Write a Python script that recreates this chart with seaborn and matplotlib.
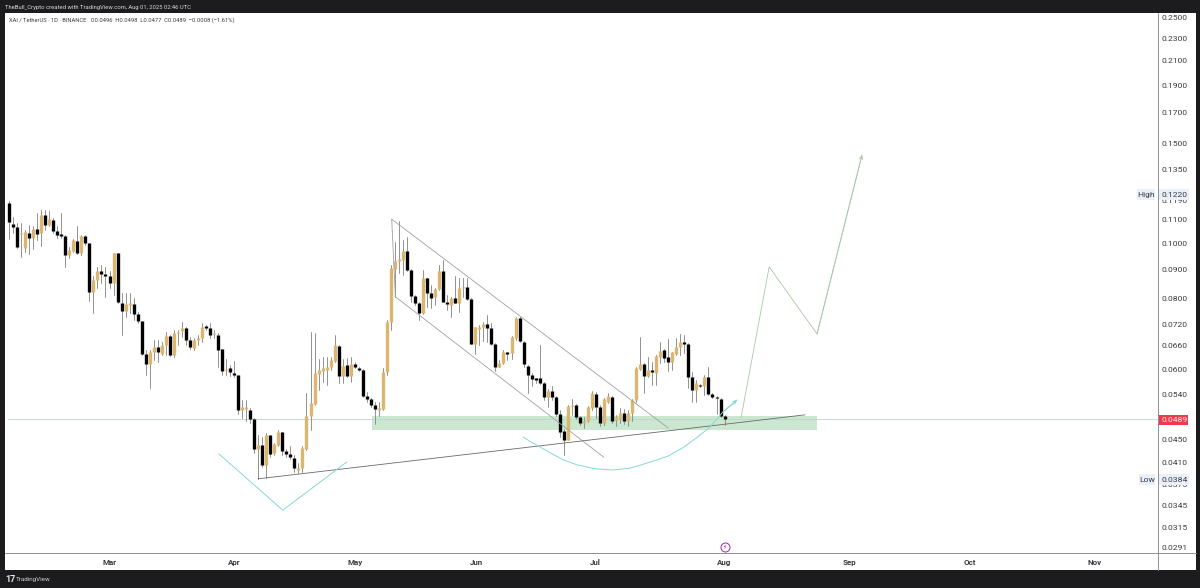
import numpy as np
import pandas as pd
import seaborn as sns
import matplotlib.pyplot as plt
from matplotlib.lines import Line2D
from matplotlib.patches import Rectangle

# Daily candles XAI/USDT, 4 Feb 2025 to 1 Aug 2025
open_prices = [
    .1180, .1082, .1069, .1039, .0983, .1045, .1021, .1059, .1045, .1120,
    .1078, .1100, .1051, .1038, .1030, .0955, .0971, .1011, .0961, .1030,
    .1001, .0819, .0862, .0894, .0883, .0877, .0850, .0961, .0786, .0760,
    .0778, .0782, .0751, .0730, .0638, .0612, .0642, .0657, .0639, .0662,
    .0686, .0635, .0694, .0701, .0710, .0675, .0654, .0675, .0680, .0715,
    .0708, .0692, .0689, .0650, .0598, .0603, .0590, .0585, .0508, .0510,
    .0508, .0489, .0433, .0441, .0406, .0458, .0426, .0441, .0464, .0430,
    .0424, .0418, .0398, .0401, .0433, .0495, .0521, .0588, .0596, .0598,
    .0605, .0620, .0659, .0584, .0610, .0584, .0612, .0603, .0598, .0538,
    .0531, .0518, .0508, .0510, .0592, .0725, .0902, .0932, .0935, .0971,
    .0898, .0808, .0786, .0753, .0868, .0816, .0805, .0829, .0892, .0789,
    .0778, .0800, .0784, .0834, .0839, .0797, .0664, .0705, .0713, .0720,
    .0710, .0664, .0606, .0615, .0642, .0640, .0681, .0737, .0670, .0608,
    .0586, .0578, .0578, .0566, .0536, .0549, .0535, .0500, .0467, .0450,
    .0516, .0519, .0493, .0481, .0486, .0512, .0542, .0515, .0481, .0525,
    .0536, .0487, .0489, .0501, .0486, .0501, .0528, .0600, .0612, .0584,
    .0598, .0590, .0631, .0648, .0629, .0618, .0639, .0657, .0670, .0664,
    .0582, .0551, .0563, .0559, .0580, .0541, .0536, .0531, .0496,
]
high_prices = [
    .1188, .1114, .1087, .1087, .1056, .1078, .1073, .1131, .1146, .1146,
    .1141, .1108, .1071, .1131, .1035, .0987, .1017, .1071, .1035, .1035,
    .1003, .0874, .0910, .0916, .0910, .0892, .0963, .0963, .0816, .0816,
    .0818, .0800, .0755, .0730, .0648, .0648, .0675, .0675, .0671, .0698,
    .0689, .0703, .0703, .0727, .0713, .0684, .0680, .0689, .0722, .0718,
    .0722, .0703, .0694, .0650, .0626, .0610, .0620, .0586, .0529, .0529,
    .0512, .0491, .0459, .0456, .0462, .0459, .0444, .0468, .0465, .0433,
    .0438, .0423, .0409, .0438, .0544, .0698, .0695, .0626, .0630, .0630,
    .0630, .0689, .0662, .0626, .0627, .0630, .0618, .0606, .0600, .0547,
    .0533, .0525, .0525, .0602, .0732, .0916, .1007, .1093, .1014, .1028,
    .0900, .0810, .0789, .0898, .0870, .0845, .0833, .0916, .0935, .0810,
    .0805, .0877, .0868, .0868, .0868, .0800, .0713, .0718, .0727, .0748,
    .0722, .0666, .0622, .0648, .0644, .0686, .0741, .0741, .0673, .0610,
    .0590, .0579, .0662, .0568, .0553, .0559, .0538, .0508, .0471, .0519,
    .0532, .0521, .0496, .0493, .0517, .0549, .0547, .0519, .0533, .0545,
    .0538, .0498, .0512, .0510, .0507, .0531, .0604, .0684, .0614, .0629,
    .0618, .0635, .0670, .0650, .0677, .0644, .0682, .0692, .0689, .0666,
    .0592, .0574, .0565, .0586, .0605, .0544, .0538, .0533, .0498,
]
low_prices = [
    .1017, .1043, .0982, .0947, .0967, .0958, .0977, .1014, .0990, .1056,
    .1071, .1045, .1021, .1021, .0908, .0943, .0967, .0958, .0955, .0994,
    .0792, .0753, .0833, .0850, .0805, .0833, .0810, .0785, .0689, .0742,
    .0753, .0732, .0722, .0635, .0586, .0555, .0622, .0618, .0635, .0635,
    .0632, .0630, .0662, .0684, .0662, .0650, .0648, .0662, .0670, .0703,
    .0680, .0681, .0606, .0586, .0586, .0584, .0580, .0500, .0492, .0485,
    .0481, .0426, .0384, .0403, .0386, .0420, .0423, .0438, .0423, .0420,
    .0417, .0395, .0393, .0395, .0432, .0468, .0519, .0551, .0570, .0563,
    .0598, .0618, .0566, .0566, .0580, .0570, .0602, .0594, .0536, .0525,
    .0515, .0480, .0495, .0508, .0586, .0703, .0805, .0886, .0880, .0895,
    .0789, .0779, .0732, .0751, .0773, .0769, .0778, .0827, .0787, .0763,
    .0740, .0784, .0758, .0805, .0794, .0663, .0637, .0662, .0673, .0670,
    .0662, .0594, .0604, .0613, .0622, .0624, .0675, .0670, .0606, .0545,
    .0559, .0566, .0565, .0529, .0514, .0529, .0495, .0456, .0423, .0449,
    .0498, .0489, .0478, .0473, .0483, .0508, .0492, .0476, .0478, .0522,
    .0481, .0476, .0481, .0480, .0475, .0485, .0525, .0598, .0545, .0580,
    .0563, .0563, .0614, .0618, .0594, .0598, .0635, .0635, .0640, .0555,
    .0525, .0525, .0558, .0540, .0540, .0533, .0500, .0494, .0477,
]
close_prices = [
    .1089, .1069, .0986, .1043, .1046, .1021, .1059, .1039, .1120, .1078,
    .1103, .1051, .1035, .1030, .0955, .0974, .1014, .0963, .1031, .1001,
    .0821, .0862, .0892, .0883, .0877, .0850, .0961, .0789, .0760, .0782,
    .0784, .0751, .0730, .0638, .0612, .0644, .0657, .0642, .0662, .0686,
    .0635, .0694, .0698, .0708, .0675, .0656, .0675, .0680, .0713, .0710,
    .0689, .0694, .0648, .0596, .0601, .0592, .0585, .0507, .0515, .0514,
    .0489, .0433, .0441, .0406, .0458, .0425, .0443, .0465, .0430, .0424,
    .0420, .0401, .0401, .0435, .0496, .0522, .0590, .0598, .0602, .0605,
    .0622, .0662, .0584, .0608, .0584, .0612, .0604, .0598, .0538, .0531,
    .0518, .0510, .0512, .0592, .0725, .0904, .0932, .0937, .0971, .0898,
    .0808, .0786, .0753, .0868, .0816, .0802, .0829, .0892, .0789, .0781,
    .0802, .0786, .0833, .0836, .0797, .0664, .0711, .0713, .0720, .0710,
    .0664, .0606, .0615, .0642, .0637, .0684, .0737, .0673, .0612, .0586,
    .0576, .0574, .0566, .0536, .0549, .0535, .0500, .0465, .0449, .0517,
    .0518, .0493, .0481, .0485, .0514, .0545, .0514, .0481, .0531, .0538,
    .0486, .0493, .0501, .0486, .0501, .0529, .0602, .0612, .0584, .0598,
    .0592, .0632, .0646, .0628, .0618, .0642, .0657, .0670, .0664, .0580,
    .0551, .0566, .0559, .0582, .0542, .0536, .0533, .0495, .0489,
]

# Axis labels (day index counted from 4 Feb)
month_labels = ["Mar", "Apr", "May", "Jun", "Jul", "Aug", "Sep", "Oct", "Nov"]
month_days = [25, 56, 86, 116.2, 145.8, 178, 209, 239, 270]
price_ticks = [0.25, 0.23, 0.21, 0.19, 0.17, 0.15, 0.135, 0.119, 0.11, 0.10, 0.09,
               0.08, 0.072, 0.066, 0.06, 0.054, 0.045, 0.041, 0.0375, 0.0345,
               0.0315, 0.0291]
price_labels = ["0.2500", "0.2300", "0.2100", "0.1900", "0.1700", "0.1500", "0.1350",
                "0.1190", "0.1100", "0.1000", "0.0900", "0.0800", "0.0720", "0.0660",
                "0.0600", "0.0540", "0.0450", "0.0410", "0.0375", "0.0345", "0.0315",
                "0.0291"]
last_price = 0.0489

# Drawings on the chart
zone_days = [90.3, 201]
zone_low, zone_high = 0.0469, 0.0496
channel_top_days = [95.2, 164.0]
channel_top_prices = [0.1103, 0.0472]
channel_low_days = [96.1, 148.0]
channel_low_prices = [0.0805, 0.0419]
channel_edge_days = [95.2, 96.1]
channel_edge_prices = [0.1103, 0.0805]
trend_days = [62.0, 198.0]
trend_prices = [0.0384, 0.0498]
vee_days = [52.2, 68.1, 84.0]
vee_prices = [0.0425, 0.0338, 0.0411]
curve_days = [127.9, 130.1, 132.1, 135.1, 137.8, 141.5, 145.8, 150.2, 154.5, 159.5,
              163.9, 167.7, 171.1, 174.4, 177.6, 181.1]
curve_prices = [.0455, .0445, .0437, .0425, .0415, .0406, .0400, .0398, .0401, .0411,
                .0421, .0436, .0454, .0474, .0504, .0529]
path_days = [182.1, 189.1, 201.0, 212.2]
path_prices = [0.0492, 0.0909, 0.0692, 0.1433]

FRAME = "#1c1c1e"
TAN = "#dcb56f"
TEAL = "#86d8d2"
PATH_GREEN = "#a9c7a8"
LINE_GREY = "#8a8a8a"
AXIS_GREY = "#8f8f93"
TEXT = "#3b3b40"
W, H = 1200, 588


def fx(x):
    return x / W


def fy(y):
    return 1 - y / H


sns.set_theme(style="white")
plt.rcParams["font.family"] = ["Roboto", "DejaVu Sans"]

fig = plt.figure(figsize=(12, 5.88), dpi=100, facecolor=FRAME)
fig.add_artist(Rectangle((fx(5), fy(570)), fx(1191), 557 / H, transform=fig.transFigure,
                         facecolor="white", edgecolor="none", zorder=-1))

ax = fig.add_axes([fx(5), fy(553), fx(1152.5), 540 / H])
ax.patch.set_alpha(0)
ax.set_yscale("log")

days = np.arange(len(open_prices))
opens = np.array(open_prices)
closes = np.array(close_prices)

# Wicks and bodies as long tables, one short line per candle
wicks = pd.DataFrame({
    "day": np.tile(days, 2),
    "price": np.concatenate([low_prices, high_prices]),
})
bodies = pd.DataFrame({
    "day": np.tile(days, 2),
    "price": np.concatenate([opens, closes]),
    "kind": np.tile(np.where(closes >= opens, "up", "down"), 2),
})

# Zone and last price line sit under the candles
ax.fill_between(zone_days, zone_low, zone_high, color="#cbe7cf", linewidth=0, zorder=1)
ax.axhline(last_price, xmin=0.003, color="#b9d8cf", linewidth=0.6, zorder=1.5)

sns.lineplot(data=wicks, x="day", y="price", units="day", estimator=None, sort=False,
             color=LINE_GREY, linewidth=0.65, ax=ax, zorder=2)
sns.lineplot(data=bodies, x="day", y="price", units="day", hue="kind", estimator=None,
             sort=False, palette={"up": TAN, "down": "black"}, linewidth=2.4,
             solid_capstyle="butt", legend=False, ax=ax, zorder=3)

# Trader's drawings
for xs, ys in [(channel_top_days, channel_top_prices), (channel_low_days, channel_low_prices),
               (channel_edge_days, channel_edge_prices)]:
    ax.plot(xs, ys, color="#a0a0a0", linewidth=0.6, zorder=4)
ax.plot(trend_days, trend_prices, color="#6a6a6a", linewidth=0.6, zorder=4)
ax.plot(vee_days, vee_prices, color=TEAL, linewidth=0.7, zorder=4)
ax.plot(curve_days, curve_prices, color=TEAL, linewidth=0.7, zorder=4)
ax.plot(path_days, path_prices, color=PATH_GREEN, linewidth=0.6, zorder=4)
ax.annotate("", xy=(curve_days[-1], curve_prices[-1]), xytext=(curve_days[-2], curve_prices[-2]),
            arrowprops=dict(arrowstyle="->", color=TEAL, lw=0.7, mutation_scale=6,
                            shrinkA=0, shrinkB=0), zorder=4)
ax.annotate("", xy=(path_days[-1], path_prices[-1]), xytext=(path_days[-2], path_prices[-2]),
            arrowprops=dict(arrowstyle="->", color=PATH_GREEN, lw=0.6, mutation_scale=6,
                            shrinkA=0, shrinkB=0), zorder=4)

ax.set_xlim(-1.0, 285.7)
ax.set_ylim(0.0284, 0.2551)
ax.set_xlabel("")
ax.set_ylabel("")
ax.set_xticks(month_days, month_labels, fontsize=5.8, fontweight="bold", color=TEXT)
ax.set_yticks(price_ticks, price_labels, fontsize=6.1, color=TEXT)
ax.minorticks_off()
ax.yaxis.tick_right()
ax.tick_params(axis="x", length=0, pad=4.5)
ax.tick_params(axis="y", length=0, pad=3.0)
sns.despine(ax=ax, left=True, top=True, right=True, bottom=True)

# Scale separators run on to the frame
fig.add_artist(Line2D([fx(5), fx(1196)], [fy(553), fy(553)], color=AXIS_GREY, lw=0.7))
fig.add_artist(Line2D([fx(1157.5), fx(1157.5)], [fy(13), fy(570)], color=AXIS_GREY, lw=0.7))

# Price scale badges
for x0, y0, x1, y1 in [(1137, 189, 1155, 200), (1159, 189, 1189, 200),
                       (1139, 474, 1155, 485), (1159, 474, 1189, 485)]:
    fig.add_artist(Rectangle((fx(x0), fy(y1)), fx(x1 - x0), (y1 - y0) / H,
                             transform=fig.transFigure, facecolor="#e9f0fa", edgecolor="none"))
fig.add_artist(Rectangle((fx(1158), fy(425)), fx(30), 10 / H, transform=fig.transFigure,
                         facecolor="#ef3a4e", edgecolor="none"))
fig.text(fx(1162), fy(194.7), "0.1220", fontsize=6.1, color=TEXT, va="center")
fig.text(fx(1146.5), fy(194.7), "High", fontsize=6.1, color=TEXT, va="center", ha="center")
fig.text(fx(1162), fy(479.5), "0.0384", fontsize=6.1, color=TEXT, va="center")
fig.text(fx(1147), fy(479.5), "Low", fontsize=6.1, color=TEXT, va="center", ha="center")
fig.text(fx(1162), fy(420), "0.0489", fontsize=6.1, color="#ffe8ea", va="center")

# Header, legend row and footer
fig.text(fx(5), fy(7), "TheBull_Crypto created with TradingView.com, Aug 01, 2025 02:46 UTC",
         fontsize=4.25, color="#d8d8d8", va="center")
fig.text(fx(9), fy(20.5), "XAI / TetherUS · 1D · BINANCE   O0.0496  H0.0498  L0.0477  C0.0489  "
         "−0.0008 (−1.61%)", fontsize=4.15, color=TEXT, va="center")
fig.text(fx(5), fy(579.5), "17", fontsize=6.5, fontweight="bold", color="#e6e6e6", va="center")
fig.text(fx(16), fy(579.5), "TradingView", fontsize=4.5, color="#cfcfcf", va="center")

# Lightning marker on the time axis
fig.add_artist(Line2D([fx(725)], [fy(547)], marker="o", markersize=6.5, markerfacecolor="white",
                      markeredgecolor="#9c27b0", markeredgewidth=0.7))
fig.text(fx(725), fy(547), "\u26a1", fontsize=4.5, color="#9c27b0", va="center", ha="center",
         family="DejaVu Sans")

fig.savefig("out.png", dpi=100)
